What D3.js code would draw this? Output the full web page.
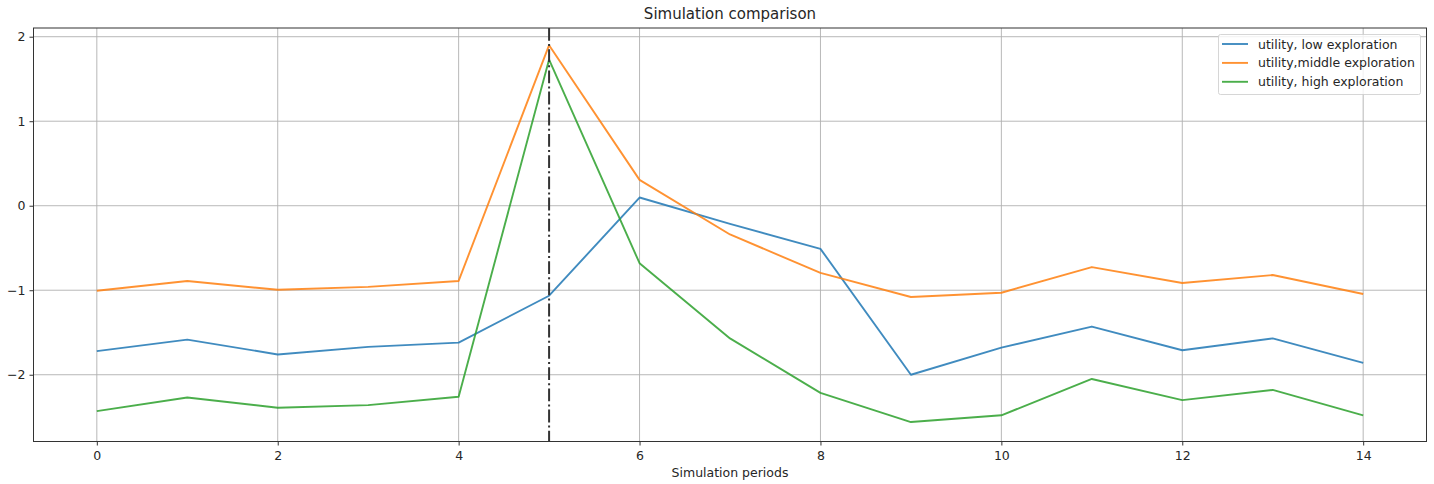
<!DOCTYPE html>
<html><head><meta charset="utf-8">
<script src="https://cdn.jsdelivr.net/npm/d3@7"></script>
<style>body{margin:0;background:#fff;}svg{display:block;font-family:"DejaVu Sans",sans-serif;}</style>
</head><body><svg id="c" width="1434" height="484"></svg>
<script>
const periods = d3.range(0, 15);
const lowExploration = [-1.72,-1.585,-1.76,-1.67,-1.62,-1.065,0.097,-0.215,-0.51,-2.0,-1.68,-1.43,-1.71,-1.57,-1.86];
const middleExploration = [-1.006,-0.89,-0.995,-0.96,-0.89,1.90,0.306,-0.34,-0.795,-1.08,-1.03,-0.726,-0.915,-0.82,-1.045];
const highExploration = [-2.43,-2.27,-2.39,-2.36,-2.26,1.73,-0.68,-1.57,-2.215,-2.56,-2.48,-2.05,-2.30,-2.18,-2.48];
const seriesNames = ["utility, low exploration","utility,middle exploration","utility, high exploration"];
const seriesColors = ["#1f77b4","#ff7f0e","#2ca02c"];
const xTicks = [0,2,4,6,8,10,12,14];
const yTicks = [-2,-1,0,1,2];
const markerPeriod = 5;

const svg = d3.select("#c");
const L=33.5, R=1426.5, T=28, B=441.5;
const x = d3.scaleLinear().domain([-0.7,14.7]).range([L,R]);
const y = d3.scaleLinear().domain([-2.79,2.103]).range([B,T]);

// grid
svg.append("g").selectAll("line").data(xTicks).join("line")
  .attr("x1",d=>x(d)).attr("x2",d=>x(d)).attr("y1",T).attr("y2",B)
  .attr("stroke","#b0b0b0").attr("stroke-width",0.9);
svg.append("g").selectAll("line").data(yTicks).join("line")
  .attr("x1",L).attr("x2",R).attr("y1",d=>y(d)).attr("y2",d=>y(d))
  .attr("stroke","#b0b0b0").attr("stroke-width",0.9);

// axes
const xAxis = d3.axisBottom(x).tickValues(xTicks).tickSize(4).tickPadding(4).tickFormat(d3.format("d"));
const yAxis = d3.axisLeft(y).tickValues(yTicks).tickSize(4).tickPadding(4).tickFormat(d=>d<0?"\u2212"+Math.abs(d):d);
const gx = svg.append("g").attr("transform",`translate(0,${B})`).call(xAxis);
const gy = svg.append("g").attr("transform",`translate(${L},0)`).call(yAxis);
[gx,gy].forEach(g=>{
  g.select(".domain").remove();
  g.selectAll("text").attr("font-size",12.5).attr("fill","#262626").attr("font-family","DejaVu Sans");
  g.selectAll("line").attr("stroke","#333");
});
gx.selectAll("text").attr("dy","0.8em");

// lines
const line = d3.line().x((d,i)=>x(periods[i])).y(d=>y(d));
[lowExploration,middleExploration,highExploration].forEach((s,k)=>{
  svg.append("path").datum(s).attr("d",line).attr("fill","none")
    .attr("stroke",seriesColors[k]).attr("stroke-opacity",0.85).attr("stroke-width",1.9).attr("stroke-linejoin","round");
});

// vertical dash-dot marker
svg.append("line").attr("x1",x(markerPeriod)).attr("x2",x(markerPeriod)).attr("y1",T).attr("y2",B)
  .attr("stroke","#333").attr("stroke-width",2).attr("stroke-dasharray","12.8,3.2,2,3.2");

// frame
svg.append("rect").attr("x",L).attr("y",T).attr("width",R-L).attr("height",B-T)
  .attr("fill","none").attr("stroke","#333").attr("stroke-width",1);

// title and label
svg.append("text").attr("x",(L+R)/2).attr("y",19).attr("text-anchor","middle")
  .attr("font-size",15).attr("fill","#262626").text("Simulation comparison");
svg.append("text").attr("x",(L+R)/2).attr("y",477).attr("text-anchor","middle")
  .attr("font-size",12.5).attr("fill","#262626").text("Simulation periods");

// legend
const lg = svg.append("g");
lg.append("rect").attr("x",1218.5).attr("y",34.5).attr("width",202).attr("height",60).attr("rx",2)
  .attr("fill","#fff").attr("fill-opacity",0.8).attr("stroke","#ccc").attr("stroke-width",0.8);
seriesNames.forEach((n,k)=>{
  const yy = 44 + k*18.9;
  lg.append("line").attr("x1",1222).attr("x2",1248).attr("y1",yy).attr("y2",yy)
    .attr("stroke",seriesColors[k]).attr("stroke-opacity",0.85).attr("stroke-width",1.9);
  lg.append("text").attr("x",1258).attr("y",yy+4.5).attr("font-size",12.5).attr("fill","#262626").text(n);
});
</script></body></html>
